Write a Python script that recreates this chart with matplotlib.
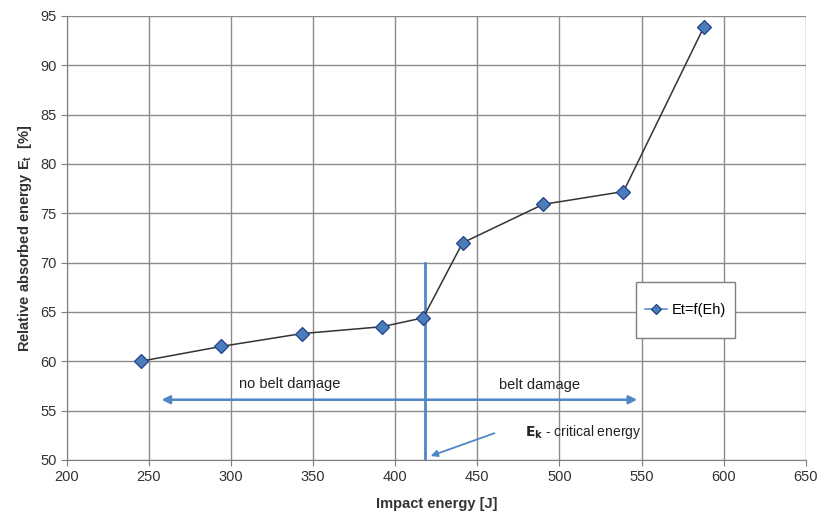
import matplotlib
matplotlib.use('Agg')
import matplotlib.pyplot as plt
from matplotlib.patches import Rectangle

# данные с графика
impact = [245, 294, 343, 392, 417, 441, 490, 539, 588]
absorbed = [60.0, 61.5, 62.8, 63.5, 64.4, 72.0, 75.9, 77.2, 93.9]
x_ticks = [200, 250, 300, 350, 400, 450, 500, 550, 600, 650]
y_ticks = [50, 55, 60, 65, 70, 75, 80, 85, 90, 95]
e_crit = 418

blue = '#4f86c6'
plt.rcParams['font.family'] = ['Liberation Sans', 'DejaVu Sans']

fig = plt.figure(figsize=(8.35, 5.15), dpi=100)
ax = fig.add_axes([0.080, 0.107, 0.885, 0.862])

ax.plot(impact, absorbed, color='#333333', lw=1.1, marker='D', ms=7.5,
        mfc='#4a7ebb', mec='#23408e', mew=0.9, label='Et=f(Eh)', zorder=4)

ax.set_xlim(200, 650)
ax.set_ylim(50, 95)
ax.set_xticks(x_ticks)
ax.set_yticks(y_ticks)
ax.grid(True, color='#8c8c8c', lw=1.0)
ax.set_axisbelow(True)
for s in ['top', 'right']:
    ax.spines[s].set_visible(False)
for s in ['left', 'bottom']:
    ax.spines[s].set_color('#7f7f7f')
ax.tick_params(direction='out', length=4, color='#7f7f7f', labelsize=10.5, labelcolor='#333333')

ax.set_xlabel('Impact energy [J]', fontsize=10.5, fontweight='bold', color='#333333', labelpad=9)
ax.set_ylabel('Relative absorbed energy E$_\\mathregular{t}$  [%]', fontsize=10.5,
              fontweight='bold', color='#333333')

# критическая энергия
ax.plot([e_crit, e_crit], [50, 70], color=blue, lw=2, zorder=3)
ax.annotate('', xy=(256, 56.1), xytext=(549, 56.1),
            arrowprops=dict(arrowstyle='<|-|>', color=blue, lw=1.8, mutation_scale=12))
ax.text(336, 57.7, 'no belt damage', ha='center', va='center', fontsize=10.5, color='#222222')
ax.text(488, 57.6, 'belt damage', ha='center', va='center', fontsize=10.5, color='#222222')
ax.text(479, 52.85, '$\\mathbf{E_k}$ - critical energy', ha='left', va='center',
        fontsize=10, color='#222222')
ax.annotate('', xy=(420, 50.3), xytext=(462, 52.8),
            arrowprops=dict(arrowstyle='-|>', color=blue, lw=1.3, mutation_scale=10))

# рамка легенды
ax.add_patch(Rectangle((546.5, 62.4), 60.5, 5.6, facecolor='white', edgecolor='#7f7f7f',
                       lw=1.0, zorder=5))
leg = ax.legend(loc='center', bbox_to_anchor=(576.8, 65.2), bbox_transform=ax.transData,
                frameon=False, fontsize=10.5, handlelength=1.5, handletextpad=0.3,
                markerscale=0.7, borderpad=0, borderaxespad=0)
leg.set_zorder(6)
leg.get_lines()[0].set_color(blue)

fig.savefig('out.png', dpi=100)
